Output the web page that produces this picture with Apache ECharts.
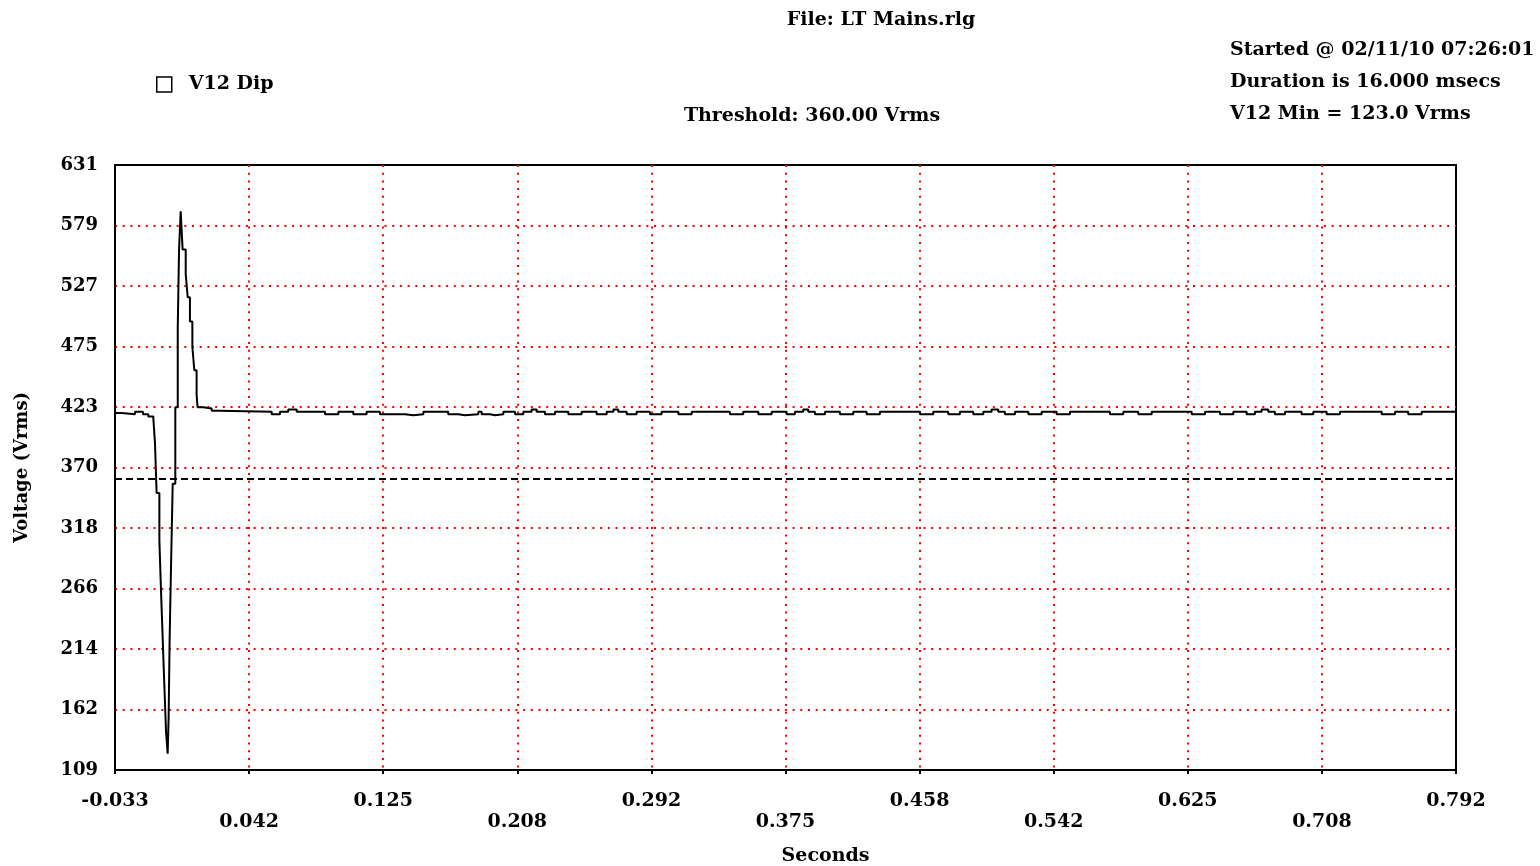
<!DOCTYPE html>
<html>
<head>
<meta charset="utf-8">
<title>V12 Dip - LT Mains.rlg</title>
<script src="https://cdn.jsdelivr.net/npm/echarts@6/dist/echarts.min.js"></script>
<style>
  html, body { margin: 0; padding: 0; background: #ffffff; }
  #chart { width: 1540px; height: 866px; }
</style>
</head>
<body>
<div id="chart"></div>
<script>
// ---------- data ----------
const xTickLabels = ['-0.033', '0.042', '0.125', '0.208', '0.292', '0.375', '0.458', '0.542', '0.625', '0.708', '0.792'];
const yTickLabels = ['109', '162', '214', '266', '318', '370', '423', '475', '527', '579', '631'];
const thresholdV = [360];

// time (s) where each step of the V12 rms trace starts
const timesSec = [
  -0.0330, -0.0289, -0.0207, -0.0158, -0.0125, -0.0094,
  -0.0084, -0.0074, -0.0057, -0.0047, -0.0037, -0.0027, -0.0016, -0.0006,
  0.0000, 0.0006, 0.0015, 0.0025, 0.0041, 0.0056, 0.0064, 0.0074,
  0.0086, 0.0105, 0.0117, 0.0131, 0.0146, 0.0158, 0.0172, 0.0178,
  0.0213, 0.0265, 0.0316,
  0.0634, 0.0685, 0.0736, 0.0788, 0.0962, 0.1044, 0.1136, 0.1218, 0.1300, 0.1454,
  0.1505, 0.1567, 0.1720, 0.1782, 0.1823, 0.1905, 0.1926, 0.1977, 0.2008, 0.2059,
  0.2131, 0.2182, 0.2233, 0.2264, 0.2315, 0.2377, 0.2459, 0.2541, 0.2633, 0.2695,
  0.2736, 0.2766, 0.2818, 0.2879, 0.2961, 0.3033, 0.3136, 0.3218, 0.3453, 0.3535,
  0.3628, 0.3710, 0.3802, 0.3853, 0.3904, 0.3935, 0.3976, 0.4038, 0.4130, 0.4212,
  0.4294, 0.4376, 0.4622, 0.4704, 0.4796, 0.4868, 0.4950, 0.5012, 0.5063, 0.5104,
  0.5145, 0.5207, 0.5289, 0.5371, 0.5463, 0.5545, 0.5791, 0.5873, 0.5965, 0.6048,
  0.6294, 0.6376, 0.6468, 0.6550, 0.6632, 0.6683, 0.6724, 0.6765, 0.6806, 0.6868,
  0.6970, 0.7042, 0.7124, 0.7206, 0.7463, 0.7545, 0.7626, 0.7709, 0.7920
];
// V12 rms voltage (V) for each step
const voltsV12 = [
  417, 416, 418, 416, 414, 412,
  391, 348, 307, 264, 224, 184, 142, 123,
  155, 221, 287, 356, 422, 490, 558, 591,
  558, 537, 517, 496, 474, 454, 433, 422,
  421, 419, 418,
  416, 418, 420, 418, 416, 418, 416, 418, 416, 415,
  416, 418, 416, 415, 416, 418, 416, 415, 416, 418,
  416, 418, 420, 418, 416, 418, 416, 418, 416, 418,
  420, 418, 416, 418, 416, 418, 416, 418, 416, 418,
  416, 418, 416, 418, 420, 418, 416, 418, 416, 418,
  416, 418, 416, 418, 416, 418, 416, 418, 420, 418,
  416, 418, 416, 418, 416, 418, 416, 418, 416, 418,
  416, 418, 416, 418, 416, 418, 420, 418, 416, 418,
  416, 418, 416, 418, 416, 418, 416, 418, 418
];

// ---------- chart ----------
const X_MIN = -0.033, X_MAX = 0.792, X_STEP = 0.0825;
const Y_MIN = 109, Y_MAX = 631, Y_STEP = 52.2;
const FONT = '"DejaVu Serif", "Liberation Serif", serif';

const seriesData = timesSec.map((t, i) => [t, voltsV12[i]]);

const chart = echarts.init(document.getElementById('chart'), null, { renderer: 'canvas' });

const textEl = (txt, x, y, align) => ({
  type: 'text', x: x, y: y, silent: true,
  style: {
    text: txt, fill: '#000', font: 'bold 19px ' + FONT,
    align: align, textAlign: align, verticalAlign: 'middle', textVerticalAlign: 'middle'
  }
});

chart.setOption({
  animation: false,
  backgroundColor: '#ffffff',
  textStyle: { fontFamily: FONT },
  grid: {
    left: 115, top: 165, right: 84, bottom: 96,
    outerBoundsMode: 'none', containLabel: false,
    show: true, backgroundColor: '#ffffff', borderColor: '#000000', borderWidth: 2
  },
  legend: {
    left: 156, top: 75, padding: 0,
    itemWidth: 15, itemHeight: 15,
    data: [{
      name: 'V12 Dip', icon: 'rect',
      itemStyle: { color: '#ffffff', borderColor: '#000000', borderWidth: 1.5 }
    }],
    textStyle: { fontFamily: FONT, fontWeight: 'bold', fontSize: 19, color: '#000', padding: [0, 0, 0, 12] }
  },
  graphic: [
    textEl('File: LT Mains.rlg', 881, 20, 'center'),
    textEl('Threshold: 360.00 Vrms', 812, 116, 'center'),
    textEl('Started @ 02/11/10 07:26:01', 1230, 50, 'left'),
    textEl('Duration is 16.000 msecs', 1230, 82, 'left'),
    textEl('V12 Min = 123.0 Vrms', 1230, 114, 'left')
  ],
  xAxis: {
    type: 'value',
    min: X_MIN, max: X_MAX, interval: X_STEP,
    name: 'Seconds', nameLocation: 'middle', nameGap: 77,
    nameTextStyle: { fontFamily: FONT, fontWeight: 'bold', fontSize: 19, color: '#000', padding: [0, 0, 0, 80] },
    axisLine: { show: true, onZero: false, lineStyle: { color: '#000', width: 2 } },
    axisTick: { show: true, inside: false, length: 4, lineStyle: { color: '#000', width: 2 } },
    axisLabel: {
      margin: 21, color: '#000', fontFamily: FONT, fontWeight: 'bold', fontSize: 19, lineHeight: 21,
      formatter: function (value) {
        const i = Math.round((value - X_MIN) / X_STEP);
        const s = xTickLabels[i] !== undefined ? xTickLabels[i] : '';
        return i % 2 ? '\n' + s : s;
      }
    },
    splitLine: {
      show: true, showMinLine: false, showMaxLine: false,
      lineStyle: { color: '#ff0000', width: 2, type: [2, 5.7] }
    }
  },
  yAxis: {
    type: 'value',
    min: Y_MIN, max: Y_MAX, interval: Y_STEP,
    name: 'Voltage (Vrms)', nameLocation: 'middle', nameGap: 84, nameRotate: 90,
    nameTextStyle: { fontFamily: FONT, fontWeight: 'bold', fontSize: 18, color: '#000' },
    axisLine: { show: true, onZero: false, lineStyle: { color: '#000', width: 2 } },
    axisTick: { show: false },
    axisLabel: {
      margin: 17, color: '#000', fontFamily: FONT, fontWeight: 'bold', fontSize: 18,
      formatter: function (value) {
        const i = Math.round((value - Y_MIN) / Y_STEP);
        return yTickLabels[i] !== undefined ? yTickLabels[i] : '';
      }
    },
    splitLine: {
      show: true, showMinLine: false, showMaxLine: false,
      lineStyle: { color: '#ff0000', width: 2, type: [2, 5.7] }
    }
  },
  series: [{
    name: 'V12 Dip',
    type: 'line',
    step: 'end',
    data: seriesData,
    showSymbol: false,
    symbol: 'none',
    lineStyle: { color: '#000000', width: 2 },
    itemStyle: { color: '#000000' },
    z: 5,
    markLine: {
      silent: true,
      symbol: ['none', 'none'],
      label: { show: false },
      lineStyle: { color: '#000000', width: 1.8, type: [7, 4] },
      data: [{ yAxis: thresholdV[0] }]
    }
  }]
});
</script>
</body>
</html>
